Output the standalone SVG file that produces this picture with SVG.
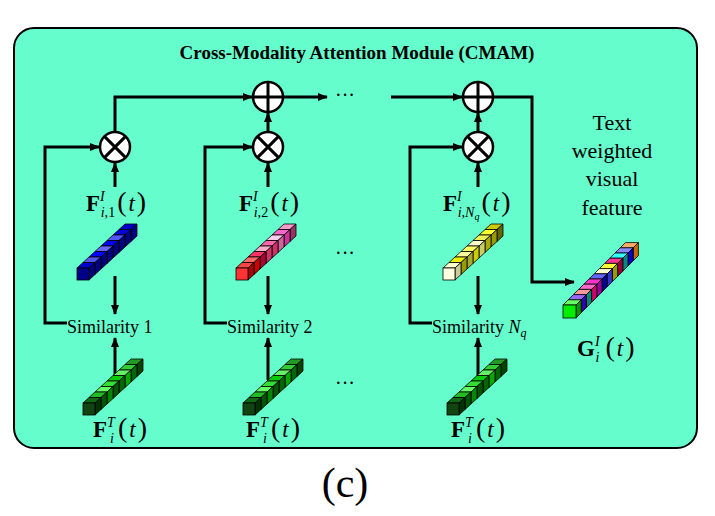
<svg xmlns="http://www.w3.org/2000/svg" width="715" height="516" viewBox="0 0 715 516" font-family="'Liberation Serif','Noto Serif','DejaVu Serif','FreeSerif',serif">
<style>
.ln{fill:none;stroke:#000;stroke-width:3}
.op{fill:#fff;stroke:#000;stroke-width:2.5}
.c{stroke:#000;stroke-width:0.8}
.t{font-family:'Liberation Serif','Noto Serif','DejaVu Serif','FreeSerif',serif}
.m{font-family:'Liberation Serif','Noto Serif','DejaVu Serif','FreeSerif',serif;font-style:italic}
</style>
<defs>
<marker id="ah" markerWidth="10" markerHeight="8" refX="9" refY="4" orient="auto" markerUnits="userSpaceOnUse"><path d="M0,0L10,4L0,8z"/></marker>
<path id="tp" d="M0,0h12l6,-5.5h-12z"/>
<path id="sd" d="M12,0l6,-5.5v12l-6,5.5z"/>
<rect id="fr" width="12" height="12"/>
<path id="tp2" d="M0,0h13l5.2,-5.2h-13z"/>
<path id="sd2" d="M13,0l5.2,-5.2v13l-5.2,5.2z"/>
<rect id="fr2" width="13" height="13"/>
</defs>
<rect x="14" y="28" width="683" height="420" rx="20" fill="#66fdcd" stroke="#000" stroke-width="2"/>
<text class="t" x="357" y="59" font-size="19" font-weight="bold" text-anchor="middle">Cross-Modality Attention Module (CMAM)</text>

<g id="connectors">
<path class="ln" d="M115,132V97H252" marker-end="url(#ah)"/>
<path class="ln" d="M283,97H327" marker-end="url(#ah)"/>
<path class="ln" d="M391,97H462" marker-end="url(#ah)"/>
<path class="ln" d="M493,97H532V282H574" marker-end="url(#ah)"/>
<path class="ln" d="M268,132V113" marker-end="url(#ah)"/>
<path class="ln" d="M478,132V113" marker-end="url(#ah)"/>
<path class="ln" d="M67,323H45V147H99" marker-end="url(#ah)"/>
<path class="ln" d="M227,323H205V147H252" marker-end="url(#ah)"/>
<path class="ln" d="M432,323H410V147H462" marker-end="url(#ah)"/>
<path class="ln" d="M115,187V163" marker-end="url(#ah)"/>
<path class="ln" d="M268,187V163" marker-end="url(#ah)"/>
<path class="ln" d="M478,187V163" marker-end="url(#ah)"/>
<path class="ln" d="M115,276V314" marker-end="url(#ah)"/>
<path class="ln" d="M268,276V314" marker-end="url(#ah)"/>
<path class="ln" d="M478,276V314" marker-end="url(#ah)"/>
<path class="ln" d="M115,380V338" marker-end="url(#ah)"/>
<path class="ln" d="M268,380V338" marker-end="url(#ah)"/>
<path class="ln" d="M478,380V338" marker-end="url(#ah)"/>
</g>

<g id="ops">
<g id="mul1"><circle class="op" cx="115" cy="147" r="15"/><path class="ln" d="M104.4,136.4l21.2,21.2M125.6,136.4l-21.2,21.2"/></g>
<g id="mul2"><circle class="op" cx="268" cy="147" r="15"/><path class="ln" d="M257.4,136.4l21.2,21.2M278.6,136.4l-21.2,21.2"/></g>
<g id="mul3"><circle class="op" cx="478" cy="147" r="15"/><path class="ln" d="M467.4,136.4l21.2,21.2M488.6,136.4l-21.2,21.2"/></g>
<g id="add2"><circle class="op" cx="268" cy="97" r="15"/><path class="ln" d="M253,97h30M268,82v30"/></g>
<g id="add3"><circle class="op" cx="478" cy="97" r="15"/><path class="ln" d="M463,97h30M478,82v30"/></g>
</g>

<g class="t" font-size="20">
<text x="345" y="102" text-anchor="middle">···</text>
<text x="345" y="260" text-anchor="middle">···</text>
<text x="345" y="390" text-anchor="middle">···</text>
</g>

<g id="labels">
<text x="86" y="211" class="t" font-size="23"><tspan font-weight="bold">F</tspan><tspan class="m" font-size="14" dy="-10">I</tspan><tspan class="m" font-size="14" dx="-4" dy="16">i,</tspan><tspan class="t" font-size="14">1</tspan><tspan dx="2" dy="-6" font-size="28">(</tspan><tspan class="m" dx="2">t</tspan><tspan dx="2" font-size="28">)</tspan></text>
<text x="239" y="211" class="t" font-size="23"><tspan font-weight="bold">F</tspan><tspan class="m" font-size="14" dy="-10">I</tspan><tspan class="m" font-size="14" dx="-4" dy="16">i,</tspan><tspan class="t" font-size="14">2</tspan><tspan dx="2" dy="-6" font-size="28">(</tspan><tspan class="m" dx="2">t</tspan><tspan dx="2" font-size="28">)</tspan></text>
<text x="443" y="211" class="t" font-size="23"><tspan font-weight="bold">F</tspan><tspan class="m" font-size="14" dy="-10">I</tspan><tspan class="m" font-size="14" dx="-4" dy="16">i,N</tspan><tspan class="m" font-size="10" dy="3">q</tspan><tspan dx="2" dy="-9" font-size="28">(</tspan><tspan class="m" dx="2">t</tspan><tspan dx="2" font-size="28">)</tspan></text>
<text x="93" y="437" class="t" font-size="23"><tspan font-weight="bold">F</tspan><tspan class="m" font-size="14" dy="-10">T</tspan><tspan class="m" font-size="14" dx="-4" dy="16">i</tspan><tspan dx="4" dy="-6" font-size="28">(</tspan><tspan class="m" dx="2">t</tspan><tspan dx="2" font-size="28">)</tspan></text>
<text x="246" y="437" class="t" font-size="23"><tspan font-weight="bold">F</tspan><tspan class="m" font-size="14" dy="-10">T</tspan><tspan class="m" font-size="14" dx="-4" dy="16">i</tspan><tspan dx="4" dy="-6" font-size="28">(</tspan><tspan class="m" dx="2">t</tspan><tspan dx="2" font-size="28">)</tspan></text>
<text x="451" y="437" class="t" font-size="23"><tspan font-weight="bold">F</tspan><tspan class="m" font-size="14" dy="-10">T</tspan><tspan class="m" font-size="14" dx="-4" dy="16">i</tspan><tspan dx="4" dy="-6" font-size="28">(</tspan><tspan class="m" dx="2">t</tspan><tspan dx="2" font-size="28">)</tspan></text>
<text x="577" y="356" class="t" font-size="23"><tspan font-weight="bold">G</tspan><tspan class="m" font-size="14" dy="-10">I</tspan><tspan class="m" font-size="14" dx="-4" dy="16">i</tspan><tspan dx="6" dy="-6" font-size="28">(</tspan><tspan class="m" dx="2">t</tspan><tspan dx="2" font-size="28">)</tspan></text>
<text x="67" y="333" class="t" font-size="18">Similarity 1</text>
<text x="227" y="333" class="t" font-size="18">Similarity 2</text>
<text x="432" y="333" class="t" font-size="18">Similarity <tspan class="m">N</tspan><tspan class="m" font-size="12" dy="4">q</tspan></text>
<g class="t" font-size="22" text-anchor="middle">
<text x="612" y="130">Text</text><text x="612" y="158">weighted</text><text x="612" y="186">visual</text><text x="612" y="215">feature</text>
</g>
</g>

<g id="bar-blue" class="c">
<use href="#tp" x="119" y="229.5" fill="#0000cc"/><use href="#sd" x="119" y="229.5" fill="#000080"/>
<use href="#tp" x="113" y="235" fill="#0000dd"/><use href="#sd" x="113" y="235" fill="#000080"/>
<use href="#tp" x="107" y="240.5" fill="#5555ff"/><use href="#sd" x="107" y="240.5" fill="#000080"/>
<use href="#tp" x="101" y="246" fill="#0000ee"/><use href="#sd" x="101" y="246" fill="#000080"/>
<use href="#tp" x="95" y="251.5" fill="#6666ff"/><use href="#sd" x="95" y="251.5" fill="#000080"/>
<use href="#tp" x="89" y="257" fill="#0000ff"/><use href="#sd" x="89" y="257" fill="#000080"/>
<use href="#tp" x="83" y="262.5" fill="#5555ee"/><use href="#sd" x="83" y="262.5" fill="#000080"/>
<use href="#tp" x="77" y="268" fill="#0000cc"/><use href="#sd" x="77" y="268" fill="#000080"/>
<use href="#fr" x="77" y="268" fill="#000088"/>
</g>
<g id="bar-pink" class="c">
<use href="#tp" x="278" y="229.5" fill="#ff99cc"/><use href="#sd" x="278" y="229.5" fill="#993366"/>
<use href="#tp" x="272" y="235" fill="#ff66cc"/><use href="#sd" x="272" y="235" fill="#cc3399"/>
<use href="#tp" x="266" y="240.5" fill="#ffccee"/><use href="#sd" x="266" y="240.5" fill="#cc6699"/>
<use href="#tp" x="260" y="246" fill="#ff66aa"/><use href="#sd" x="260" y="246" fill="#cc3366"/>
<use href="#tp" x="254" y="251.5" fill="#ffaacc"/><use href="#sd" x="254" y="251.5" fill="#cc3366"/>
<use href="#tp" x="248" y="257" fill="#ff3366"/><use href="#sd" x="248" y="257" fill="#aa0033"/>
<use href="#tp" x="242" y="262.5" fill="#ff6666"/><use href="#sd" x="242" y="262.5" fill="#cc0000"/>
<use href="#tp" x="236" y="268" fill="#ff4444"/><use href="#sd" x="236" y="268" fill="#aa0000"/>
<use href="#fr" x="236" y="268" fill="#ff3333"/>
</g>
<g id="bar-yellow" class="c">
<use href="#tp" x="485" y="229.5" fill="#cccc00"/><use href="#sd" x="485" y="229.5" fill="#666600"/>
<use href="#tp" x="479" y="235" fill="#ffff33"/><use href="#sd" x="479" y="235" fill="#999900"/>
<use href="#tp" x="473" y="240.5" fill="#eeee55"/><use href="#sd" x="473" y="240.5" fill="#aaaa00"/>
<use href="#tp" x="467" y="246" fill="#ffffcc"/><use href="#sd" x="467" y="246" fill="#cccc66"/>
<use href="#tp" x="461" y="251.5" fill="#ffff66"/><use href="#sd" x="461" y="251.5" fill="#cccc00"/>
<use href="#tp" x="455" y="257" fill="#ffff99"/><use href="#sd" x="455" y="257" fill="#aaaa33"/>
<use href="#tp" x="449" y="262.5" fill="#eeee00"/><use href="#sd" x="449" y="262.5" fill="#999900"/>
<use href="#tp" x="443" y="268" fill="#ffffcc"/><use href="#sd" x="443" y="268" fill="#cccc99"/>
<use href="#fr" x="443" y="268" fill="#ffffe0"/>
</g>
<g id="bar-green1" class="c">
<use href="#tp" x="125" y="364.5" fill="#229922"/><use href="#sd" x="125" y="364.5" fill="#004400"/>
<use href="#tp" x="119" y="370" fill="#33cc33"/><use href="#sd" x="119" y="370" fill="#006600"/>
<use href="#tp" x="113" y="375.5" fill="#66ee66"/><use href="#sd" x="113" y="375.5" fill="#00aa00"/>
<use href="#tp" x="107" y="381" fill="#00cc00"/><use href="#sd" x="107" y="381" fill="#006600"/>
<use href="#tp" x="101" y="386.5" fill="#33dd33"/><use href="#sd" x="101" y="386.5" fill="#005500"/>
<use href="#tp" x="95" y="392" fill="#66ff66"/><use href="#sd" x="95" y="392" fill="#008800"/>
<use href="#tp" x="89" y="397.5" fill="#22bb22"/><use href="#sd" x="89" y="397.5" fill="#005500"/>
<use href="#tp" x="83" y="403" fill="#116611"/><use href="#sd" x="83" y="403" fill="#003300"/>
<use href="#fr" x="83" y="403" fill="#114411"/>
</g>
<g id="bar-green2" class="c" transform="translate(160,0)">
<use href="#tp" x="125" y="364.5" fill="#229922"/><use href="#sd" x="125" y="364.5" fill="#004400"/>
<use href="#tp" x="119" y="370" fill="#33cc33"/><use href="#sd" x="119" y="370" fill="#006600"/>
<use href="#tp" x="113" y="375.5" fill="#66ee66"/><use href="#sd" x="113" y="375.5" fill="#00aa00"/>
<use href="#tp" x="107" y="381" fill="#00cc00"/><use href="#sd" x="107" y="381" fill="#006600"/>
<use href="#tp" x="101" y="386.5" fill="#33dd33"/><use href="#sd" x="101" y="386.5" fill="#005500"/>
<use href="#tp" x="95" y="392" fill="#66ff66"/><use href="#sd" x="95" y="392" fill="#008800"/>
<use href="#tp" x="89" y="397.5" fill="#22bb22"/><use href="#sd" x="89" y="397.5" fill="#005500"/>
<use href="#tp" x="83" y="403" fill="#116611"/><use href="#sd" x="83" y="403" fill="#003300"/>
<use href="#fr" x="83" y="403" fill="#114411"/>
</g>
<g id="bar-green3" class="c" transform="translate(364,0)">
<use href="#tp" x="125" y="364.5" fill="#229922"/><use href="#sd" x="125" y="364.5" fill="#004400"/>
<use href="#tp" x="119" y="370" fill="#33cc33"/><use href="#sd" x="119" y="370" fill="#006600"/>
<use href="#tp" x="113" y="375.5" fill="#66ee66"/><use href="#sd" x="113" y="375.5" fill="#00aa00"/>
<use href="#tp" x="107" y="381" fill="#00cc00"/><use href="#sd" x="107" y="381" fill="#006600"/>
<use href="#tp" x="101" y="386.5" fill="#33dd33"/><use href="#sd" x="101" y="386.5" fill="#005500"/>
<use href="#tp" x="95" y="392" fill="#66ff66"/><use href="#sd" x="95" y="392" fill="#008800"/>
<use href="#tp" x="89" y="397.5" fill="#22bb22"/><use href="#sd" x="89" y="397.5" fill="#005500"/>
<use href="#tp" x="83" y="403" fill="#116611"/><use href="#sd" x="83" y="403" fill="#003300"/>
<use href="#fr" x="83" y="403" fill="#114411"/>
</g>
<g id="bar-output" class="c">
<use href="#tp2" x="620.2" y="247.8" fill="#ffaa66"/><use href="#sd2" x="620.2" y="247.8" fill="#cc6600"/>
<use href="#tp2" x="615" y="253" fill="#8888ff"/><use href="#sd2" x="615" y="253" fill="#0000cc"/>
<use href="#tp2" x="609.8" y="258.2" fill="#33ffff"/><use href="#sd2" x="609.8" y="258.2" fill="#008888"/>
<use href="#tp2" x="604.6" y="263.4" fill="#ff3399"/><use href="#sd2" x="604.6" y="263.4" fill="#990033"/>
<use href="#tp2" x="599.4" y="268.6" fill="#ffff33"/><use href="#sd2" x="599.4" y="268.6" fill="#999900"/>
<use href="#tp2" x="594.2" y="273.8" fill="#ffffcc"/><use href="#sd2" x="594.2" y="273.8" fill="#3333cc"/>
<use href="#tp2" x="589" y="279" fill="#6666ff"/><use href="#sd2" x="589" y="279" fill="#000099"/>
<use href="#tp2" x="583.8" y="284.2" fill="#ff33cc"/><use href="#sd2" x="583.8" y="284.2" fill="#990099"/>
<use href="#tp2" x="578.6" y="289.4" fill="#ff66cc"/><use href="#sd2" x="578.6" y="289.4" fill="#cc0066"/>
<use href="#tp2" x="573.4" y="294.6" fill="#ff9999"/><use href="#sd2" x="573.4" y="294.6" fill="#008877"/>
<use href="#tp2" x="568.2" y="299.8" fill="#9966ff"/><use href="#sd2" x="568.2" y="299.8" fill="#3300aa"/>
<use href="#tp2" x="563" y="305" fill="#66ff66"/><use href="#sd2" x="563" y="305" fill="#009900"/>
<use href="#fr2" x="563" y="305" fill="#00ee00"/>
</g>

<text class="t" x="345" y="497" font-size="42" text-anchor="middle">(c)</text>
</svg>
